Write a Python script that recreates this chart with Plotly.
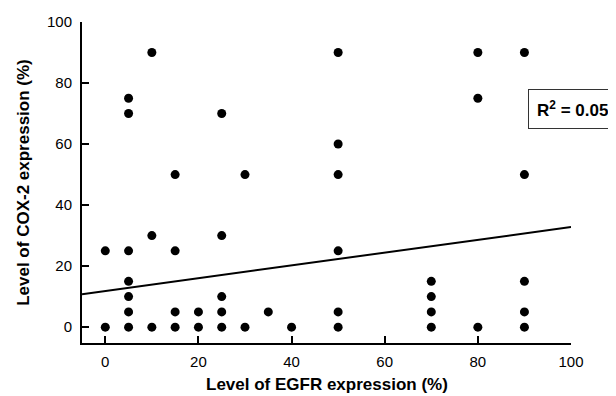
import plotly.graph_objects as go

egfr = [0, 0,
        5, 5, 5, 5, 5, 5, 5,
        10, 10, 10,
        15, 15, 15, 15,
        20, 20,
        25, 25, 25, 25, 25,
        30, 30,
        35,
        40,
        50, 50, 50, 50, 50, 50,
        70, 70, 70, 70,
        80, 80, 80,
        90, 90, 90, 90, 90]
cox2 = [0, 25,
        0, 5, 10, 15, 25, 70, 75,
        0, 30, 90,
        0, 5, 25, 50,
        0, 5,
        0, 5, 10, 30, 70,
        0, 50,
        5,
        0,
        0, 5, 25, 50, 60, 90,
        0, 5, 10, 15,
        0, 75, 90,
        0, 5, 15, 50, 90]

fit_x = [-5, 100]
fit_intercept = 11.85
fit_slope = 0.2095
fit_y = [fit_intercept + fit_slope * v for v in fit_x]

x_ticks = [0, 20, 40, 60, 80, 100]
y_ticks = [0, 20, 40, 60, 80, 100]

FONT = "Arial, Liberation Sans, Helvetica, sans-serif"

fig = go.Figure()
fig.add_trace(go.Scatter(x=fit_x, y=fit_y, mode="lines",
                         line=dict(color="black", width=2), showlegend=False))
fig.add_trace(go.Scatter(x=egfr, y=cox2, mode="markers",
                         marker=dict(color="black", size=9), showlegend=False,
                         cliponaxis=False))

axis_common = dict(showgrid=False, zeroline=False, showline=True, linecolor="black",
                   linewidth=2, ticks="inside", tickcolor="black", tickwidth=2,
                   ticklen=7, automargin=False,
                   tickfont=dict(family=FONT, size=15, color="black"))

fig.update_xaxes(range=[-5, 100], tickvals=x_ticks, ticklabelstandoff=4, **axis_common)
fig.update_yaxes(range=[-5.2, 100], tickvals=y_ticks, ticklabelstandoff=5, **axis_common)

fig.add_annotation(xref="paper", yref="paper", x=0.5, y=-0.093,
                   xanchor="center", yanchor="top", showarrow=False,
                   text="<b>Level of EGFR expression (%)</b>",
                   font=dict(family=FONT, size=17, color="black"))
fig.add_annotation(xref="paper", yref="paper", x=-0.12, y=0.5,
                   xanchor="center", yanchor="middle", showarrow=False, textangle=-90,
                   text="<b>Level of COX-2 expression (%)</b>",
                   font=dict(family=FONT, size=17, color="black"))

fig.add_annotation(xref="paper", yref="y", x=(528 - 82) / 489, y=71.5,
                   xanchor="left", yanchor="middle", showarrow=False,
                   text="<b>R<sup>2</sup> = 0.05</b>",
                   font=dict(family=FONT, size=17, color="black"),
                   bordercolor="#333333", borderwidth=1, borderpad=8, bgcolor="white")

# page body has an 8px default margin, so the figure is sized to fit the window
fig.update_layout(width=608, height=388, plot_bgcolor="white", paper_bgcolor="white",
                  margin=dict(l=74, r=45, t=14, b=53))

fig.write_html("out.html")
